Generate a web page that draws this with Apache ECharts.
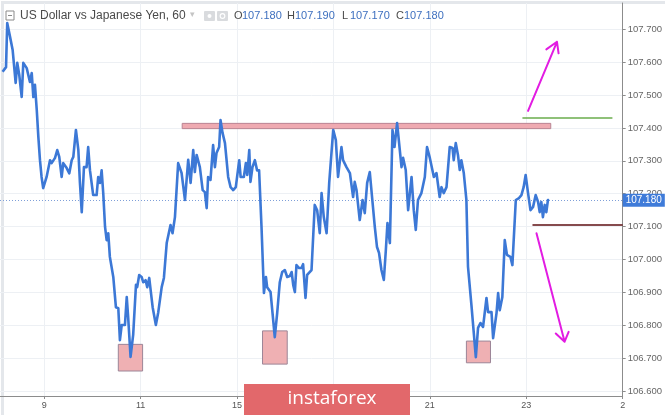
<!DOCTYPE html>
<html>
<head>
<meta charset="utf-8">
<script src="https://cdn.jsdelivr.net/npm/echarts@6/dist/echarts.min.js"></script>
<style>
  html, body { margin: 0; padding: 0; background: #ffffff; }
  #chart { width: 665px; height: 415px; }
</style>
</head>
<body>
<div id="chart"></div>
<script>
// ---- data (hour offset, price) ----
const hours = [
  -20.7,-19.0,-18.4,-17.0,-15.7,-15.0,-14.2,-13.4,-12.4,-11.2,-10.4,-8.7,-7.1,-6.2,-5.4,-4.6,-3.7,-2.9,-2.1,-1.3,
  -0.5,1.2,2.9,3.7,5.4,6.5,7.5,8.7,9.5,11.2,12.5,13.7,14.5,15.8,17.0,17.8,18.7,19.8,21.1,21.9,
  22.8,24.4,26.1,26.9,27.8,28.6,29.4,30.3,31.1,31.9,32.7,34.4,35.7,36.9,37.7,38.6,40.2,41.1,41.8,43.0,
  44.3,45.7,46.3,47.3,48.5,49.3,50.5,51.3,52.3,53.0,54.0,55.6,56.8,58.5,59.6,61.0,
  62.9,63.9,65.1,66.7,68.4,70.1,71.7,72.9,74.2,75.0,75.9,77.5,78.9,80.0,80.9,81.6,82.8,84.1,85.0,85.8,
  87.1,87.8,88.8,90.0,91.6,92.8,94.1,95.4,96.1,97.1,97.8,99.4,100.4,101.1,102.1,102.7,103.7,104.9,106.0,107.0,
  108.2,109.4,110.4,111.0,112.7,114.8,116.0,117.3,118.5,119.8,121.0,122.3,123.2,124.0,124.8,125.6,126.9,128.1,128.9,130.1,
  130.9,133.1,134.7,135.9,137.2,138.1,139.2,140.6,141.9,143.9,145.2,146.3,
  148.0,148.8,150.5,152.2,153.8,154.6,155.5,157.1,158.5,159.6,160.8,162.1,163.5,164.6,165.7,166.7,167.9,169.1,170.1,170.9,
  172.1,173.4,174.4,175.7,177.9,178.7,180.0,181.2,182.9,184.0,185.0,186.1,187.8,189.5,190.6,192.0,192.8,194.0,195.3,196.1,
  196.9,197.8,198.9,200.3,201.9,203.3,203.9,204.9,206.0,206.9,207.7,208.9,210.2,211.0,212.7,214.9,216.0,217.2,218.5,220.2,
  221.0,222.7,223.5,225.2,226.0,226.8,228.1,229.3,230.4,232.1,233.1,234.8,236.4,237.6,238.7,239.7,240.9,242.1,243.4,244.7,
  245.9,246.7,247.5,248.3,249.2,250.0,250.8,251.3
];
const prices = [
  107.571,107.585,107.719,107.677,107.637,107.631,107.537,107.598,107.561,107.494,107.598,107.582,107.540,107.567,107.494,107.531,107.455,107.372,107.302,107.251,
  107.217,107.251,107.302,107.293,107.309,107.333,107.312,107.251,107.293,107.278,107.262,107.302,107.312,107.394,107.333,107.233,107.144,107.281,107.281,107.342,
  107.271,107.196,107.196,107.251,107.233,107.271,107.202,107.099,107.059,107.080,107.008,106.947,106.855,106.852,106.755,106.801,106.801,106.886,106.825,106.704,
  106.771,106.923,106.916,106.953,106.947,106.931,106.937,106.916,106.944,106.907,106.855,106.801,106.840,106.916,106.944,107.050,
  107.105,107.080,107.129,107.293,107.263,107.181,107.303,107.233,107.333,107.266,107.318,107.281,107.211,107.205,107.156,107.251,107.242,107.348,107.281,107.324,
  107.342,107.424,107.385,107.354,107.251,107.220,107.211,107.220,107.214,107.302,107.251,107.251,107.293,107.257,107.333,107.236,107.281,107.302,107.271,107.271,
  107.099,106.898,106.947,106.916,106.901,106.764,106.837,106.931,106.962,106.968,106.947,106.950,106.962,106.922,106.901,106.983,106.974,106.974,106.986,106.883,
  106.953,106.968,107.166,107.150,107.080,107.202,107.129,107.080,107.233,107.394,107.363,107.251,
  107.342,107.302,107.281,107.263,107.190,107.236,107.211,107.120,107.181,107.141,107.233,107.266,107.172,107.099,107.038,107.020,106.968,106.938,107.029,107.111,
  107.050,107.394,107.342,107.415,107.281,107.309,107.272,107.150,107.251,107.150,107.090,107.181,107.202,107.251,107.342,107.309,107.312,107.251,107.263,107.263,
  107.190,107.220,107.202,107.220,107.342,107.339,107.302,107.354,107.318,107.272,107.302,107.263,107.181,106.978,106.862,106.703,106.792,106.807,106.795,106.883,
  106.840,106.840,106.761,106.837,106.898,106.846,106.886,107.059,107.014,107.008,106.983,107.181,107.187,107.196,107.220,107.257,107.202,107.150,107.160,107.196,
  107.175,107.144,107.175,107.129,107.166,107.144,107.181,107.180
];
const dayTicks = [0, 48, 96, 144, 192, 240, 288];
const dayLabels = ['9', '11', '15', '17', '21', '23', '2'];
const priceTicks = [106.6, 106.7, 106.8, 106.9, 107.0, 107.1, 107.2, 107.3, 107.4, 107.5, 107.6, 107.7];
const lastPrice = 107.180;
const ohlcNames = ['O', 'H', 'L', 'C'];
const ohlcValues = [107.180, 107.190, 107.170, 107.180];
const titleText = 'US Dollar vs Japanese Yen, 60';
// drawn annotations (hour, price)
const resistanceZone = [[68.7, 107.414], [252.2, 107.398]];
const lowBoxes = [
  [[36.9, 106.742], [49.0, 106.661]],
  [[108.7, 106.783], [121.0, 106.682]],
  [[210.2, 106.752], [222.2, 106.686]]
];
const upperLevel = [[238.1, 107.432], [282.9, 107.432]];
const lowerLevel = [[243.1, 107.106], [288.0, 107.106]];
const upArrow = [[240.9, 107.452], [255.3, 107.662], [250.0, 107.639], [255.3, 107.662], [256.1, 107.627]];
const downArrow = [[245.1, 107.080], [259.1, 106.750], [254.7, 106.775], [259.1, 106.750], [261.1, 106.780]];

const lineData = hours.map((h, i) => [h, prices[i]]);
const FONT = '"Liberation Sans", Arial, sans-serif';

const chart = echarts.init(document.getElementById('chart'));

const headerGraphics = [];
// frame
headerGraphics.push({ type: 'rect', left: 0, top: 0, z: 0, silent: true,
  shape: { x: 0, y: 0, width: 665, height: 415 },
  style: { fill: 'none', stroke: '#e4e7eb', lineWidth: 3 } });
// collapse icon
headerGraphics.push({ type: 'rect', x: 6, y: 11, z: 100,
  shape: { x: 0, y: 0, width: 8, height: 9 },
  style: { fill: '#fff', stroke: '#8a8a8a', lineWidth: 1 } });
headerGraphics.push({ type: 'line', x: 6, y: 11, z: 100,
  shape: { x1: 2, y1: 4.5, x2: 6, y2: 4.5 }, style: { stroke: '#8a8a8a', lineWidth: 1 } });
headerGraphics.push({ type: 'text', x: 20, y: 16, z: 100,
  style: { text: titleText, font: '12px ' + FONT, fill: '#4a4a4a', verticalAlign: 'middle' } });
headerGraphics.push({ type: 'text', x: 190, y: 15, z: 100,
  style: { text: '▾', font: '9px ' + FONT, fill: '#c4c4c4', verticalAlign: 'middle' } });
headerGraphics.push({ type: 'rect', x: 204, y: 11, z: 100,
  shape: { x: 0, y: 0, width: 11, height: 10, r: 1 }, style: { fill: '#d9dbde' } });
headerGraphics.push({ type: 'circle', x: 209.5, y: 16, z: 101,
  shape: { cx: 0, cy: 0, r: 2 }, style: { fill: '#ffffff' } });
headerGraphics.push({ type: 'rect', x: 217, y: 11, z: 100,
  shape: { x: 0, y: 0, width: 11, height: 10, r: 1 }, style: { fill: '#d9dbde' } });
headerGraphics.push({ type: 'circle', x: 222.5, y: 16, z: 101,
  shape: { cx: 0, cy: 0, r: 2.3 }, style: { fill: 'none', stroke: '#ffffff', lineWidth: 1.2 } });
const ohlcX = [234, 287, 342, 396];
ohlcNames.forEach((n, i) => {
  headerGraphics.push({ type: 'text', x: ohlcX[i], y: 16, z: 100,
    style: { text: n, font: '11px ' + FONT, fill: '#4a4a4a', verticalAlign: 'middle' } });
  headerGraphics.push({ type: 'text', x: ohlcX[i] + 8, y: 16, z: 100,
    style: { text: ohlcValues[i].toFixed(3), font: '11px ' + FONT, fill: '#3d6fbf', verticalAlign: 'middle' } });
});
// logo
headerGraphics.push({ type: 'rect', x: 244, y: 384, z: 200,
  shape: { x: 0, y: 0, width: 166, height: 31 }, style: { fill: '#e2686b' } });
headerGraphics.push({ type: 'text', x: 332, y: 399, z: 201,
  style: { text: 'instaforex', font: '19px "Open Sans", sans-serif', fill: '#ffffff', align: 'center', verticalAlign: 'middle' } });

const option = {
  animation: false,
  backgroundColor: '#ffffff',
  grid: { left: 0, right: 42, top: 3, bottom: 19, containLabel: false },
  xAxis: {
    type: 'value', min: -22, max: 288,
    axisLine: { show: true, onZero: false, lineStyle: { color: '#8c8c8c', width: 1 } },
    axisTick: { show: true, length: 3, customValues: dayTicks, lineStyle: { color: '#8c8c8c' } },
    axisLabel: { customValues: dayTicks, margin: 5, fontSize: 9, color: '#555', fontFamily: FONT,
      formatter: v => dayLabels[dayTicks.indexOf(v)] ?? '' },
    splitLine: { show: true, lineStyle: { color: '#edf0f4', width: 1 } }
  },
  yAxis: {
    type: 'value', position: 'right', min: 106.585, max: 107.780, scale: true,
    axisLine: { show: true, onZero: false, lineStyle: { color: '#8c8c8c', width: 1 } },
    axisTick: { show: true, length: 3, customValues: priceTicks, lineStyle: { color: '#8c8c8c' } },
    axisLabel: { customValues: priceTicks, margin: 5, fontSize: 9.5, color: '#666', fontFamily: FONT,
      formatter: v => v.toFixed(3) },
    splitLine: { show: true, lineStyle: { color: '#edf0f4', width: 1 } }
  },
  graphic: headerGraphics,
  series: [
    {
      type: 'line', data: lineData, showSymbol: false, z: 5,
      lineStyle: { color: '#3c78d6', width: 2.6, join: 'round' },
      markArea: {
        silent: true,
        data: [
          [{ coord: resistanceZone[0], itemStyle: { color: '#efaab1', borderColor: '#b98493', borderWidth: 1 } },
           { coord: resistanceZone[1] }],
          ...lowBoxes.map(b => [
            { coord: b[0], itemStyle: { color: '#efb0b3', borderColor: '#9c8597', borderWidth: 1 } },
            { coord: b[1] }])
        ]
      },
      markLine: {
        silent: true, symbol: 'none',
        data: [
          { yAxis: lastPrice,
            lineStyle: { type: [1, 2], color: '#7f9fd8', width: 1 },
            label: { show: true, position: 'end', distance: 0, formatter: lastPrice.toFixed(3),
              backgroundColor: '#3f7bd9', color: '#ffffff', fontSize: 10, fontFamily: FONT,
              padding: [2, 3, 1, 3] } },
          [{ coord: upperLevel[0], lineStyle: { type: 'solid', color: '#6aac4c', width: 1.5 }, label: { show: false } },
           { coord: upperLevel[1] }],
          [{ coord: lowerLevel[0], lineStyle: { type: 'solid', color: '#5e0f12', width: 1.5 }, label: { show: false } },
           { coord: lowerLevel[1] }]
        ]
      }
    },
    {
      type: 'line', data: upArrow, showSymbol: false, z: 6, silent: true,
      lineStyle: { color: '#e21ce2', width: 2, join: 'round', cap: 'round' }
    },
    {
      type: 'line', data: downArrow, showSymbol: false, z: 6, silent: true,
      lineStyle: { color: '#e21ce2', width: 2, join: 'round', cap: 'round' }
    }
  ]
};
chart.setOption(option);
</script>
</body>
</html>
